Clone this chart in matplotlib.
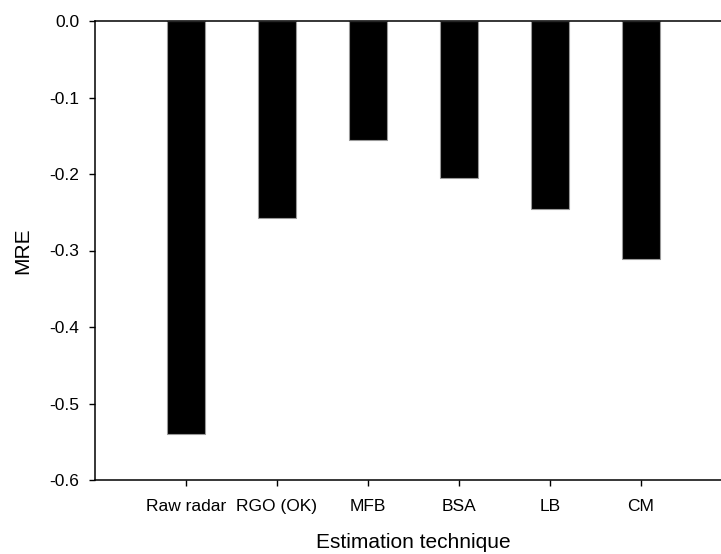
import numpy as np
import matplotlib
matplotlib.use('Agg')
from matplotlib import pyplot as plt

plt.rcParams['font.family'] = ['Liberation Sans', 'DejaVu Sans']

techniques = ['Raw radar', 'RGO (OK)', 'MFB', 'BSA', 'LB', 'CM']
mre = [-0.540, -0.257, -0.155, -0.205, -0.246, -0.311]
yticks = [0.0, -0.1, -0.2, -0.3, -0.4, -0.5, -0.6]

fig = plt.figure(figsize=(7.21, 5.54), dpi=100)
# right edge of the frame runs past the picture, as in the original
ax = fig.add_axes([95/721, 1-480/554, 637/721, 459/554])

x = np.arange(1, len(techniques)+1)
ax.bar(x, mre, width=0.41, color='black', edgecolor='#999999', linewidth=0.8)

ax.set_xlim(0, 7)
ax.set_ylim(-0.6, 0.0)
ax.set_yticks(yticks)
ax.set_yticklabels(['%.1f' % v for v in yticks])
ax.set_xticks(x)
ax.set_xticklabels(techniques)

for s in ax.spines.values():
    s.set_linewidth(1.1)
ax.tick_params(direction='out', length=4.5, width=1.0, labelsize=12.5)
ax.tick_params(axis='x', pad=9)
ax.tick_params(axis='y', pad=7)

ax.set_xlabel('Estimation technique', fontsize=15, labelpad=14)
ax.set_ylabel('MRE', fontsize=15, labelpad=12)

fig.savefig('out.png', dpi=100)
